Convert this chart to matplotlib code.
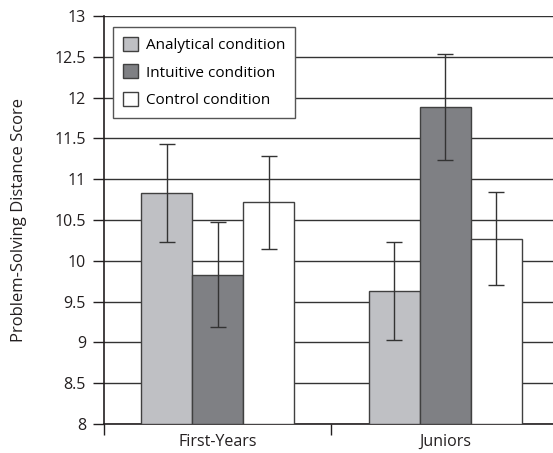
import matplotlib
matplotlib.use("Agg")
import matplotlib.pyplot as plt
import numpy as np

plt.rcParams['font.family'] = ['Open Sans', 'DejaVu Sans']

groups = ["First-Years", "Juniors"]
conditions = ["Analytical condition", "Intuitive condition", "Control condition"]
means = {
    "Analytical condition": [10.83, 9.63],
    "Intuitive condition": [9.83, 11.88],
    "Control condition": [10.72, 10.27],
}
errors = {
    "Analytical condition": [0.60, 0.60],
    "Intuitive condition": [0.64, 0.65],
    "Control condition": [0.57, 0.57],
}
colors = ["#bfc0c4", "#7f8084", "#ffffff"]
yticks = [8, 8.5, 9, 9.5, 10, 10.5, 11, 11.5, 12, 12.5, 13]

W, H = 553, 453
fig = plt.figure(figsize=(W / 100, H / 100), dpi=100)
ax = fig.add_axes([104 / W, (H - 424) / H, (W - 104) / W, (424 - 16) / H])

x = np.arange(len(groups))
bw = 0.224
for i, c in enumerate(conditions):
    pos = x + (i - 1) * bw
    ax.bar(pos, np.array(means[c]) - 8, bottom=8, width=bw, color=colors[i],
           edgecolor="#404040", linewidth=1.0, label=c, zorder=3)
    ax.errorbar(pos, means[c], yerr=errors[c], fmt="none", ecolor="#333333",
                elinewidth=1.0, capsize=6, capthick=1.0, zorder=4)

ax.set_ylim(8, 13)
ax.set_xlim(-0.5, 1.5 - (558.8 - 553) / 227.4)
ax.set_yticks(yticks)
ax.set_yticklabels([f"{t:g}" for t in yticks], fontsize=11.5, color="#231f20")
ax.yaxis.grid(True, color="#333333", linewidth=1.0, zorder=0)
ax.set_axisbelow(True)
ax.tick_params(axis="y", direction="out", length=8, width=1.0, color="#231f20", pad=5)

ax.set_xticks(x)
ax.set_xticklabels(groups, fontsize=11.5, color="#231f20")
ax.tick_params(axis="x", length=0, pad=7)
ax.set_xticks([-0.5, 0.5], minor=True)
ax.tick_params(axis="x", which="minor", direction="out", length=8, width=1.0, color="#231f20")

for s in ["top", "right"]:
    ax.spines[s].set_visible(False)
ax.spines["left"].set_color("#231f20")
ax.spines["left"].set_linewidth(1.2)
ax.spines["bottom"].set_color("#231f20")
ax.spines["bottom"].set_linewidth(1.2)

ax.set_ylabel("Problem-Solving Distance Score", fontsize=12, color="#231f20", labelpad=20)

leg = ax.legend(loc="upper left", bbox_to_anchor=((113 - 104) / (W - 104), (424 - 27) / (424 - 16)),
                fontsize=11.0, frameon=True, fancybox=False, handlelength=1.0, handleheight=1.0,
                borderpad=0.65, labelspacing=0.75, handletextpad=0.5, borderaxespad=0)
leg.get_frame().set_edgecolor("#555555")
leg.get_frame().set_linewidth(1.0)
leg.get_frame().set_alpha(1)

fig.savefig("out.png", dpi=100)
